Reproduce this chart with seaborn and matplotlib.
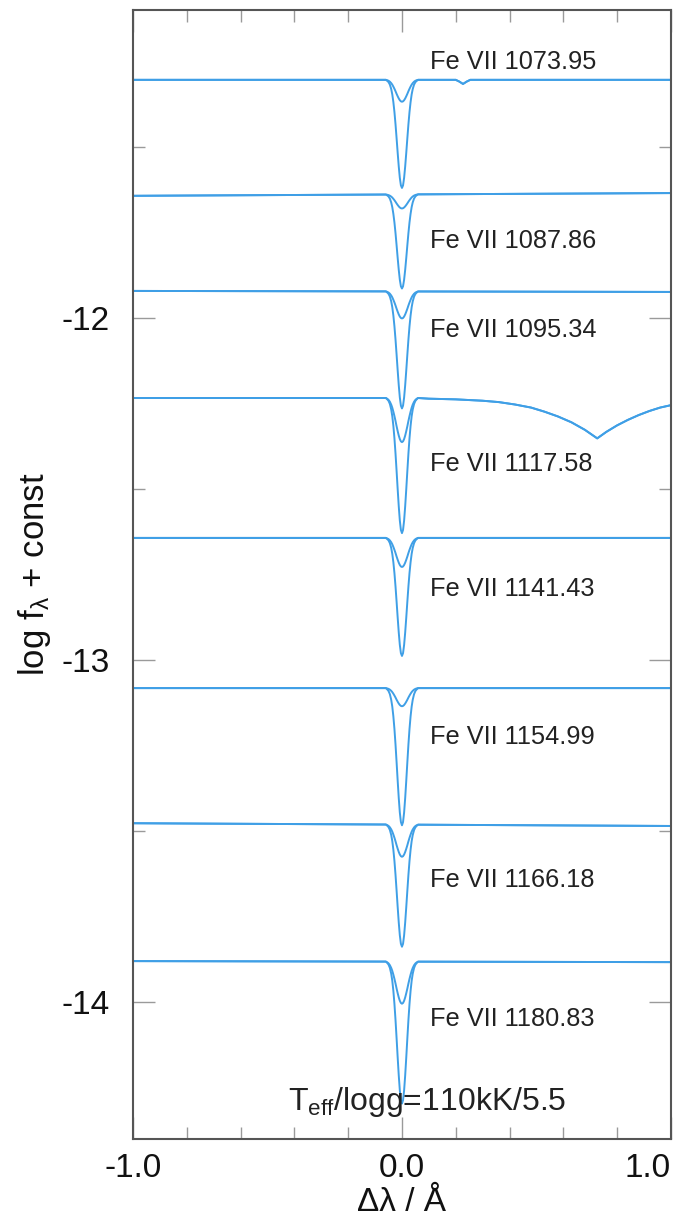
import numpy as np
import pandas as pd
import matplotlib
matplotlib.use("Agg")
import matplotlib.pyplot as plt
from matplotlib.ticker import MultipleLocator, FixedLocator
import seaborn as sns

# Fe VII lines: identification, continuum level at the left/right edge,
# depth of the two model profiles (shallow / deep) and label height
line_ids = ["1073.95", "1087.86", "1095.34", "1117.58",
            "1141.43", "1154.99", "1166.18", "1180.83"]
cont_left = [-11.304, -11.643, -11.921, -12.234, -12.643, -13.082, -13.477, -13.880]
cont_right = [-11.304, -11.635, -11.924, -12.234, -12.643, -13.082, -13.485, -13.883]
depth_shallow = [0.064, 0.041, 0.079, 0.129, 0.085, 0.053, 0.094, 0.123]
depth_deep = [0.316, 0.275, 0.342, 0.395, 0.345, 0.401, 0.357, 0.415]
label_y = [-11.251, -11.775, -12.035, -12.427, -12.792, -13.225, -13.643, -14.050]
label_x = 0.104

# normalised line-core shapes, sampled in |Δλ| (Å)
core_dx = [0.0, 0.004, 0.008, 0.012, 0.016, 0.020, 0.024, 0.028, 0.032,
           0.036, 0.040, 0.045, 0.050, 0.055, 0.060]
shape_deep = [1.00, 0.976, 0.906, 0.80, 0.674, 0.54, 0.411, 0.298, 0.206,
              0.135, 0.085, 0.044, 0.021, 0.009, 0.0]
shape_shallow = [1.00, 0.982, 0.93, 0.85, 0.75, 0.64, 0.52, 0.41, 0.31,
                 0.22, 0.15, 0.085, 0.042, 0.016, 0.0]

# blended neighbour features (Δλ, depth below continuum)
blend_dx = {
    0: [0.200, 0.213, 0.227, 0.241, 0.254],
    3: [0.10, 0.20, 0.30, 0.36, 0.42, 0.48, 0.53, 0.58, 0.63, 0.68, 0.726,
        0.76, 0.80, 0.84, 0.88, 0.92, 0.96, 1.0],
}
blend_depth = {
    0: [0.0, 0.005, 0.012, 0.005, 0.0],
    3: [0.002, 0.004, 0.008, 0.012, 0.019, 0.028, 0.040, 0.054, 0.071, 0.093,
        0.118, 0.099, 0.080, 0.064, 0.050, 0.038, 0.028, 0.021],
}

model_text = r"T$_{\mathrm{eff}}$/logg=110kK/5.5"
line_color = "#3f9fe6"

# assemble the synthetic profiles into one long table
full_dx = [-d for d in core_dx[::-1]] + core_dx[1:]
rows = []
for i, lid in enumerate(line_ids):
    cl, cr = cont_left[i], cont_right[i]

    def cont(x):
        return cl + (cr - cl) * (x + 1.0) / 2.0

    for model, depth, shape_half in (("shallow", depth_shallow[i], shape_shallow),
                                     ("deep", depth_deep[i], shape_deep)):
        shape_full = shape_half[::-1] + shape_half[1:]
        xs = [-1.0] + full_dx
        ys = [cont(-1.0)] + [cont(x) - depth * s for x, s in zip(full_dx, shape_full)]
        if i in blend_dx:
            xs += blend_dx[i]
            ys += [cont(x) - d for x, d in zip(blend_dx[i], blend_depth[i])]
        if xs[-1] < 1.0:
            xs.append(1.0)
            ys.append(cont(1.0))
        for x, y in zip(xs, ys):
            rows.append({"dlam": x, "flux": y, "curve": f"{lid}-{model}"})
df = pd.DataFrame(rows)

sns.set_theme(style="white")
plt.rcParams["font.family"] = ["Liberation Sans", "DejaVu Sans"]
plt.rcParams["mathtext.fontset"] = "custom"
plt.rcParams["mathtext.rm"] = "Liberation Sans"
plt.rcParams["mathtext.it"] = "Liberation Sans:italic"
plt.rcParams["axes.unicode_minus"] = False

fig = plt.figure(figsize=(6.77, 12.25), dpi=100)
ax = fig.add_axes([0.1965, 0.0702, 0.7945, 0.9216])

sns.lineplot(data=df, x="dlam", y="flux", units="curve", estimator=None,
             sort=False, color=line_color, lw=1.4, ax=ax, legend=False)

for lid, ly in zip(line_ids, label_y):
    ax.text(label_x, ly, f"Fe VII {lid}", fontsize=18.3, ha="left",
            va="center", color="#222222")
ax.text(-0.425, -14.316, model_text, fontsize=23, ha="left",
        va="baseline", color="#222222")

ax.xaxis.set_major_locator(FixedLocator([-1.0, 0.0, 1.0]))
ax.xaxis.set_minor_locator(MultipleLocator(0.2))
ax.yaxis.set_major_locator(FixedLocator([-14.0, -13.0, -12.0]))
ax.yaxis.set_minor_locator(MultipleLocator(0.5))
ax.set_xticklabels(["-1.0", "0.0", "1.0"])
ax.set_yticklabels(["-14", "-13", "-12"])
ax.set_xlim(-1.0, 1.0)
ax.set_ylim(-14.40, -11.10)

ax.tick_params(which="both", direction="in", top=True, right=True,
               bottom=True, left=True,
               color="#9a9a9a", width=1.0, labelsize=24, labelcolor="#111111")
ax.tick_params(which="major", length=16)
ax.tick_params(which="minor", length=8.5)
ax.tick_params(axis="y", pad=17)
ax.tick_params(axis="x", pad=10)
xt = ax.get_xticklabels()
xt[-1].set_horizontalalignment("right")

for sp in ax.spines.values():
    sp.set_color("#555555")
    sp.set_linewidth(1.5)

ax.set_xlabel("Δλ / Å", fontsize=24, color="#111111", labelpad=2)
ax.set_ylabel(r"log f$_{\mathrm{λ}}$ + const", fontsize=25, color="#111111", labelpad=6)

fig.savefig("out.png", dpi=100, facecolor="white")
